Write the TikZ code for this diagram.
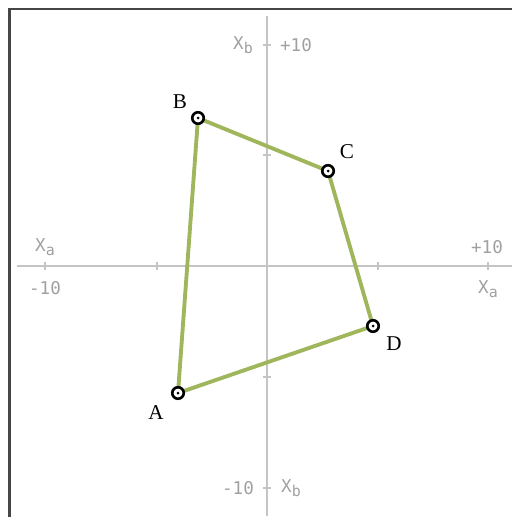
\documentclass[tikz,border=0pt]{standalone}
\usepackage{fontspec}
\setmainfont{Liberation Serif}
\setmonofont{DejaVu Sans Mono}
\usepackage{tikz}
\usetikzlibrary{positioning,calc}
\definecolor{axisgray}{RGB}{196,196,196}
\definecolor{labelgray}{RGB}{160,160,160}
\definecolor{edgegreen}{RGB}{160,182,92}
\definecolor{framegray}{RGB}{70,70,70}
\newcommand{\axname}[1]{X\raisebox{-2.5pt}{\fontsize{8.5}{9}\selectfont #1}}

\begin{document}
\begin{tikzpicture}[
  x=0.02cm, y=-0.02cm,
  axis/.style={draw=axisgray, line width=1.1pt},
  tick/.style={draw=axisgray, line width=0.6pt},
  axlabel/.style={text=labelgray, font=\fontsize{10}{11}\selectfont\ttfamily, inner sep=0pt},
  vertex/.style={circle, draw=black, fill=white, line width=1.5pt,
    minimum size=0.23cm, inner sep=0pt,
    path picture={\fill[black] (path picture bounding box.center) circle (0.03cm);}},
  ptlabel/.style={font=\fontsize{12}{13}\selectfont, inner sep=0pt},
  edge/.style={draw=edgegreen, line width=2.2pt},
]
\useasboundingbox (0,0) rectangle (512,517);
% frame
\draw[framegray, line width=1.4pt] (512,9) -- (9.5,9) -- (9.5,517);

% axes
\draw[axis] (17,266) -- (512,266);
\draw[axis] (267,16) -- (267,516);
\foreach \x in {45,157,378,488}
  \draw[tick] (\x,262) -- (\x,270);
\foreach \y in {45,155,377,488}
  \draw[tick] (263,\y) -- (271,\y);

\node[axlabel] (xbtop) at (243,45) {\axname{b}};
\node[axlabel] (ybmax) at (296,45) {+10};
\node[axlabel] (xaleft) at (45,247) {\axname{a}};
\node[axlabel] (xamin) at (45,288) {-10};
\node[axlabel] (xamax) at (487,247) {+10};
\node[axlabel] (xaright) at (488,289) {\axname{a}};
\node[axlabel] (ybmin) at (238,488) {-10};
\node[axlabel] (xbbot) at (291,488) {\axname{b}};

% quadrilateral
\coordinate (A) at (178,393);
\coordinate (B) at (198,118);
\coordinate (C) at (328,171);
\coordinate (D) at (373,326);
\draw[edge] (A) -- (B) -- (C) -- (D) -- cycle;
\foreach \p in {A,B,C,D}
  \node[vertex] (v\p) at (\p) {};

\node[ptlabel] (lA) at (156,413) {A};
\node[ptlabel] (lB) at (180,102) {B};
\node[ptlabel] (lC) at (347,152) {C};
\node[ptlabel] (lD) at (394,344) {D};
\end{tikzpicture}
\end{document}
